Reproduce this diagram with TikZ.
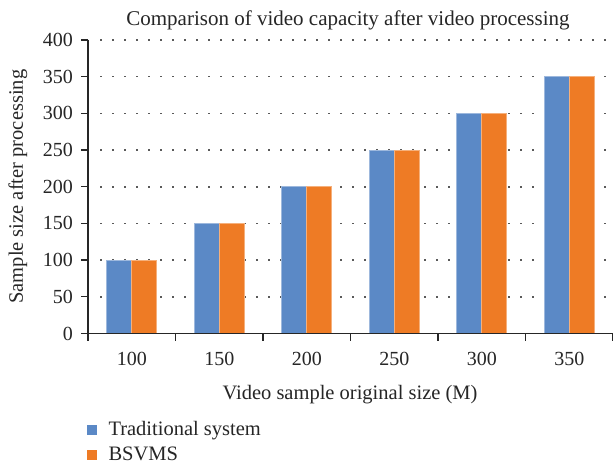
\documentclass[tikz,border=0pt]{standalone}
\usepackage{fontspec}
\setmainfont{Liberation Serif}
\definecolor{tradblue}{HTML}{5B89C6}
\definecolor{bsorange}{HTML}{EE7B25}
\definecolor{axisink}{HTML}{262626}
\definecolor{gridink}{HTML}{595959}
\begin{document}
\begin{tikzpicture}[x=1pt,y=-1pt,
  axisline/.style={draw=axisink,line width=1.3pt},
  gridline/.style={draw=gridink,line width=1.5pt,dash pattern=on 1.5pt off 10.5pt},
  bartrad/.style={fill=tradblue,draw=tradblue!60!white,line width=0.7pt},
  barbsv/.style={fill=bsorange,draw=bsorange!60!white,line width=0.7pt},
  ticklabel/.style={font=\fontsize{20}{22}\selectfont,text=axisink,inner sep=0pt},
  axistitle/.style={font=\fontsize{20.5}{22}\selectfont,text=axisink,inner sep=0pt},
  legendtext/.style={font=\fontsize{20.5}{22}\selectfont,text=axisink,inner sep=0pt,anchor=base west}]
\useasboundingbox (0,0) rectangle (613,468);
\fill[white] (0,0) rectangle (613,468);

% horizontal grid (50 ... 400)
\foreach \v in {50,100,...,400}{
  \draw[gridline] (100,{333.5-\v*0.73375}) -- (612,{333.5-\v*0.73375});
}

% bars: category k has its centre at 88 + (k+0.5)*87.5
\foreach \k/\v in {0/100,1/150,2/200,3/250,4/300,5/350}{
  \pgfmathsetmacro{\cx}{88+(\k+0.5)*87.5}
  \pgfmathsetmacro{\top}{333.5-\v*0.73375}
  \path[bartrad] (\cx-25,333.5) rectangle (\cx,\top);
  \path[barbsv] (\cx,333.5) rectangle (\cx+25,\top);
}

% axes
\coordinate (origin) at (88,333.5);
\coordinate (ytop) at (88,40);
\coordinate (xend) at (613,333.5);
\draw[axisline] (ytop) -- (origin) -- (xend);

% y ticks and labels
\foreach \v in {0,50,...,400}{
  \coordinate (yt\v) at (88,{333.5-\v*0.73375});
  \draw[axisline] (yt\v) -- ++(-7,0);
  \node[ticklabel,anchor=east] (yl\v) at ([xshift=-15pt]yt\v) {\v};
}

% x ticks and labels
\foreach \k in {0,...,6}{
  \coordinate (xt\k) at ({88+\k*87.5},333.5);
  \draw[axisline] (xt\k) -- ++(0,7);
}
\foreach \k/\lab in {0/100,1/150,2/200,3/250,4/300,5/350}{
  \node[ticklabel,anchor=base] (xl\k) at ({88+(\k+0.5)*87.5},365) {\lab};
}

% titles
\node[axistitle,anchor=base,font=\fontsize{21}{23}\selectfont] (title) at (348,25.7)
  {Comparison of video capacity after video processing};
\node[axistitle,anchor=base] (xtitle) at (350,399) {Video sample original size (M)};
\node[axistitle,anchor=base,rotate=90] (ytitle) at (23,186.7) {Sample size after processing};

% legend
\node[fill=tradblue,minimum size=10pt,inner sep=0pt] (keytrad) at (92.3,430) {};
\node[legendtext] (labtrad) at (108.3,435) {Traditional system};
\node[fill=bsorange,minimum size=10pt,inner sep=0pt] (keybsv) at (92.3,455) {};
\node[legendtext] (labbsv) at (108.3,460.7) {BSVMS};
\end{tikzpicture}
\end{document}
